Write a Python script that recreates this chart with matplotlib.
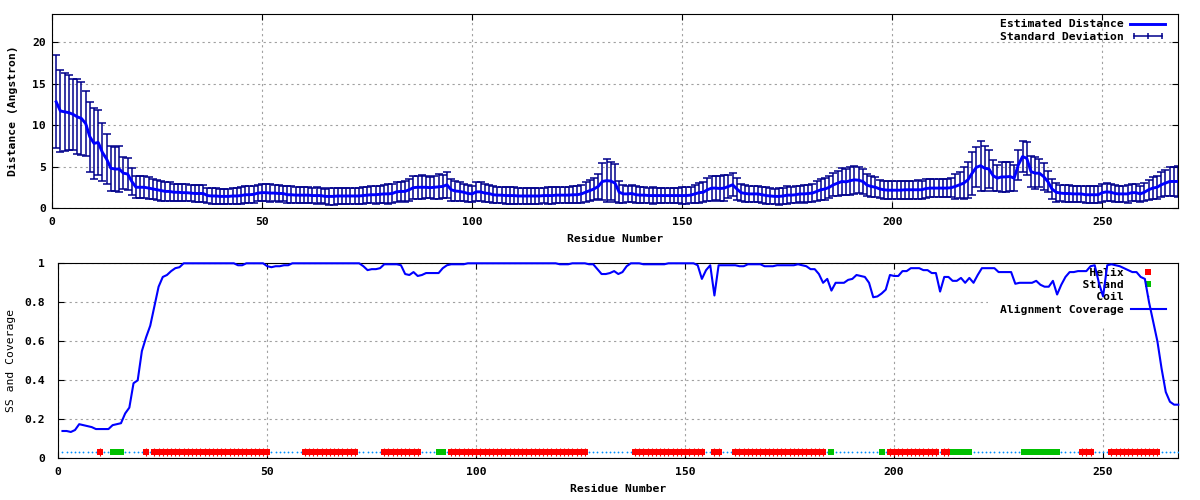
import numpy as np
import matplotlib
matplotlib.use('Agg')
import matplotlib.pyplot as plt
from matplotlib.lines import Line2D
from matplotlib.legend_handler import HandlerLine2D

# ---------------- data ----------------
residues = np.arange(1, 269)

est_distance = [
    12.8, 11.7, 11.6, 11.5, 11.3, 11.0, 10.8, 10.2, 8.6, 7.8,
    7.9, 6.7, 5.9, 4.8, 4.7, 4.7, 4.2, 4.1, 3.2, 2.5,
    2.5, 2.5, 2.4, 2.3, 2.2, 2.1, 2.0, 2.0, 1.9, 1.9,
    1.85, 1.85, 1.8, 1.75, 1.75, 1.75, 1.5, 1.45, 1.45, 1.4,
    1.4, 1.4, 1.45, 1.45, 1.5, 1.6, 1.6, 1.65, 1.8, 1.85,
    1.85, 1.8, 1.8, 1.75, 1.75, 1.6, 1.6, 1.55, 1.55, 1.55,
    1.55, 1.5, 1.5, 1.5, 1.4, 1.4, 1.4, 1.45, 1.45, 1.45,
    1.45, 1.45, 1.45, 1.5, 1.55, 1.6, 1.6, 1.65, 1.7, 1.7,
    1.75, 1.95, 2.0, 2.0, 2.2, 2.45, 2.5, 2.5, 2.5, 2.45,
    2.5, 2.55, 2.6, 2.8, 2.2, 2.05, 2.0, 1.9, 1.75, 1.7,
    1.95, 1.95, 1.8, 1.75, 1.6, 1.55, 1.55, 1.5, 1.5, 1.5,
    1.45, 1.45, 1.45, 1.45, 1.45, 1.45, 1.5, 1.5, 1.5, 1.55,
    1.55, 1.55, 1.55, 1.6, 1.6, 1.7, 1.9, 2.1, 2.3, 2.6,
    3.2, 3.3, 3.25, 3.0, 1.9, 1.7, 1.7, 1.75, 1.6, 1.55,
    1.55, 1.5, 1.5, 1.5, 1.5, 1.5, 1.5, 1.5, 1.5, 1.5,
    1.5, 1.55, 1.7, 1.85, 1.9, 2.2, 2.4, 2.4, 2.35, 2.4,
    2.6, 2.8, 2.3, 1.85, 1.75, 1.7, 1.7, 1.7, 1.6, 1.5,
    1.45, 1.4, 1.4, 1.45, 1.55, 1.55, 1.6, 1.7, 1.7, 1.75,
    1.8, 2.0, 2.2, 2.3, 2.5, 2.8, 3.0, 3.2, 3.15, 3.3,
    3.4, 3.35, 3.2, 2.75, 2.6, 2.5, 2.3, 2.2, 2.15, 2.15,
    2.15, 2.15, 2.2, 2.2, 2.2, 2.2, 2.2, 2.35, 2.4, 2.4,
    2.4, 2.4, 2.4, 2.45, 2.6, 2.8, 3.0, 3.4, 4.2, 4.9,
    5.1, 4.8, 4.7, 3.9, 3.6, 3.75, 3.75, 3.8, 3.6, 5.2,
    6.2, 6.0, 4.4, 4.2, 4.2, 3.8, 3.2, 2.3, 1.9, 1.8,
    1.75, 1.75, 1.7, 1.7, 1.7, 1.6, 1.6, 1.6, 1.6, 1.85,
    1.95, 1.9, 1.75, 1.7, 1.7, 1.7, 1.85, 1.85, 1.7, 1.9,
    2.2, 2.4, 2.5, 2.8, 3.0, 3.2, 3.2, 3.2,
]

std_dev = [
    5.6, 5.0, 4.7, 4.5, 4.3, 4.5, 4.4, 3.9, 4.2, 4.3,
    3.9, 3.5, 3.0, 2.7, 2.7, 2.8, 1.9, 1.9, 1.6, 1.3,
    1.3, 1.35, 1.3, 1.2, 1.2, 1.2, 1.1, 1.1, 1.05, 1.05,
    1.05, 1.05, 1.0, 1.0, 1.0, 1.0, 0.95, 0.95, 0.95, 0.9,
    0.9, 0.95, 0.95, 0.95, 1.0, 1.0, 1.0, 1.05, 1.0, 1.0,
    1.0, 1.05, 1.0, 1.0, 0.95, 1.0, 1.0, 0.95, 0.95, 1.0,
    1.0, 0.95, 1.0, 0.95, 0.95, 1.0, 1.0, 0.95, 1.0, 1.0,
    1.0, 1.0, 1.0, 1.0, 1.0, 1.05, 1.1, 1.05, 1.1, 1.2,
    1.2, 1.2, 1.15, 1.3, 1.3, 1.35, 1.4, 1.45, 1.35, 1.3,
    1.4, 1.5, 1.4, 1.6, 1.35, 1.2, 1.1, 1.05, 1.0, 1.0,
    1.15, 1.15, 1.1, 1.05, 1.0, 1.0, 1.0, 1.0, 1.0, 1.0,
    1.0, 0.95, 0.95, 1.0, 1.0, 1.0, 0.95, 1.0, 1.0, 1.0,
    1.0, 0.95, 1.0, 1.0, 1.05, 1.1, 1.2, 1.3, 1.3, 1.5,
    2.2, 2.6, 2.3, 2.3, 1.3, 1.1, 1.0, 1.05, 1.0, 1.0,
    1.0, 0.95, 1.0, 0.95, 0.95, 0.95, 0.95, 0.95, 0.95, 1.0,
    1.0, 1.0, 1.05, 1.2, 1.2, 1.4, 1.5, 1.4, 1.5, 1.6,
    1.4, 1.4, 1.3, 1.05, 1.0, 1.0, 1.0, 1.0, 0.95, 1.0,
    1.0, 0.95, 1.0, 1.0, 1.05, 1.0, 1.0, 1.0, 1.05, 1.05,
    1.1, 1.2, 1.25, 1.3, 1.35, 1.4, 1.5, 1.6, 1.6, 1.7,
    1.7, 1.6, 1.5, 1.3, 1.3, 1.2, 1.1, 1.1, 1.1, 1.1,
    1.1, 1.1, 1.1, 1.1, 1.1, 1.15, 1.1, 1.1, 1.1, 1.1,
    1.1, 1.1, 1.1, 1.15, 1.5, 1.6, 1.9, 2.2, 2.6, 2.4,
    3.0, 2.7, 2.3, 1.9, 1.6, 1.8, 1.8, 1.8, 1.6, 1.8,
    1.9, 2.0, 1.9, 1.9, 1.7, 1.6, 1.3, 1.2, 1.15, 1.0,
    1.0, 1.0, 1.0, 1.0, 1.0, 1.0, 1.0, 1.05, 1.0, 1.1,
    1.1, 1.0, 1.0, 1.0, 1.0, 1.05, 1.0, 1.0, 1.0, 1.1,
    1.2, 1.3, 1.4, 1.5, 1.6, 1.8, 1.8, 1.9,
]

coverage = [
    0.14, 0.14, 0.135, 0.145, 0.175, 0.17, 0.165, 0.16, 0.15, 0.15,
    0.15, 0.15, 0.17, 0.175, 0.18, 0.23, 0.26, 0.385, 0.40, 0.55,
    0.62, 0.68, 0.78, 0.88, 0.93, 0.94, 0.96, 0.975, 0.98, 1.0,
    1.0, 1.0, 1.0, 1.0, 1.0, 1.0, 1.0, 1.0, 1.0, 1.0,
    1.0, 1.0, 0.99, 0.99, 1.0, 1.0, 1.0, 1.0, 1.0, 0.985,
    0.98, 0.985, 0.985, 0.99, 0.99, 1.0, 1.0, 1.0, 1.0, 1.0,
    1.0, 1.0, 1.0, 1.0, 1.0, 1.0, 1.0, 1.0, 1.0, 1.0,
    1.0, 1.0, 0.985, 0.965, 0.97, 0.97, 0.975, 0.995, 0.995, 0.995,
    0.995, 0.99, 0.945, 0.94, 0.955, 0.935, 0.94, 0.95, 0.95, 0.95,
    0.95, 0.975, 0.99, 0.995, 0.995, 0.995, 0.995, 1.0, 1.0, 1.0,
    1.0, 1.0, 1.0, 1.0, 1.0, 1.0, 1.0, 1.0, 1.0, 1.0,
    1.0, 1.0, 1.0, 1.0, 1.0, 1.0, 1.0, 1.0, 1.0, 0.995,
    0.995, 0.995, 1.0, 1.0, 1.0, 1.0, 0.995, 0.995, 0.97, 0.945,
    0.945, 0.95, 0.96, 0.945, 0.955, 0.985, 1.0, 1.0, 1.0, 0.995,
    0.995, 0.995, 0.995, 0.995, 0.995, 1.0, 1.0, 1.0, 1.0, 1.0,
    1.0, 1.0, 0.99, 0.92, 0.965, 0.99, 0.835, 0.99, 0.99, 0.99,
    0.99, 0.99, 0.985, 0.985, 0.995, 0.995, 0.995, 0.995, 0.985, 0.985,
    0.985, 0.99, 0.99, 0.99, 0.99, 0.99, 0.995, 0.99, 0.985, 0.97,
    0.97, 0.945, 0.9, 0.92, 0.86, 0.9, 0.9, 0.9, 0.915, 0.92,
    0.94, 0.935, 0.93, 0.9, 0.826, 0.83, 0.845, 0.865, 0.94, 0.935,
    0.935, 0.96, 0.96, 0.975, 0.975, 0.975, 0.965, 0.965, 0.95, 0.95,
    0.855, 0.93, 0.93, 0.91, 0.91, 0.925, 0.9, 0.925, 0.9, 0.94,
    0.975, 0.975, 0.975, 0.975, 0.955, 0.955, 0.955, 0.955, 0.895, 0.9,
    0.9, 0.9, 0.9, 0.91, 0.89, 0.88, 0.88, 0.91, 0.84, 0.89,
    0.93, 0.955, 0.955, 0.96, 0.96, 0.96, 0.985, 0.99, 0.9, 0.83,
    0.99, 0.995, 0.99, 0.985, 0.975, 0.965, 0.955, 0.955, 0.93, 0.92,
    0.80, 0.70, 0.60, 0.46, 0.34, 0.29, 0.275, 0.275,
]

helix_segments = [(10, 10), (21, 21), (23, 50), (59, 71), (78, 86), (94, 126),
                  (138, 154), (157, 158), (162, 183), (199, 210), (212, 213),
                  (245, 247), (252, 263)]
strand_segments = [(13, 15), (91, 92), (185, 185), (197, 197), (214, 218), (231, 239)]
ss_level = 0.03

x_ticks = [0, 50, 100, 150, 200, 250]
y1_ticks = [0, 5, 10, 15, 20]
y2_ticks = [0, 0.2, 0.4, 0.6, 0.8, 1.0]
y2_ticklabels = ['0', '0.2', '0.4', '0.6', '0.8', '1']

# ---------------- derived SS arrays ----------------
helix_res = np.concatenate([np.arange(a, b + 1) for a, b in helix_segments])
strand_res = np.concatenate([np.arange(a, b + 1) for a, b in strand_segments])
coil_res = np.array([r for r in residues if r not in set(helix_res) | set(strand_res)])

# ---------------- style ----------------
plt.rcParams['font.family'] = ['DejaVu Sans Mono']
FS = 8.2
BLUE = '#0000ff'
EBLUE = '#00008b'
RED = '#ff0000'
GREEN = '#00c000'
COIL = '#0090ff'
GRID = '#a0a0a0'

W, H = 1200, 500
fig = plt.figure(figsize=(12, 5), dpi=100)
ax1 = fig.add_axes([52 / W, 1 - 208 / H, 1126 / W, 194 / H])
ax2 = fig.add_axes([58.3 / W, 1 - 458.3 / H, 1120 / W, 195 / H])


def style_axes(ax, ypad):
    ax.set_axisbelow(True)
    ax.grid(True, color=GRID, linestyle=(0, (2, 3)), linewidth=0.8)
    ax.tick_params(direction='in', length=4, width=0.8, top=True, right=True,
                   labelsize=FS)
    ax.tick_params(axis='x', pad=6.5)
    ax.tick_params(axis='y', pad=ypad)
    for lab in ax.get_xticklabels() + ax.get_yticklabels():
        lab.set_fontweight('bold')
    for s in ax.spines.values():
        s.set_linewidth(0.8)
        s.set_color('black')


# ---------------- top panel ----------------
ax1.errorbar(residues, est_distance, yerr=std_dev, fmt='none', ecolor=EBLUE,
             elinewidth=1.1, capsize=2.6, capthick=1.1, zorder=2)
ax1.plot(residues, est_distance, color=BLUE, lw=2.1, zorder=3)
ax1.set_xlim(0, 268)
ax1.set_ylim(0, 23.4)
ax1.set_xticks(x_ticks)
ax1.set_yticks(y1_ticks)
style_axes(ax1, 4.5)
ax1.set_xlabel('Residue Number', fontsize=FS, fontweight='bold', labelpad=5)
ax1.set_ylabel('Distance (Angstron)', fontsize=FS, fontweight='bold', labelpad=10)

h_est = Line2D([], [], color=BLUE, lw=2.1)
h_sd = Line2D([], [], color=EBLUE, lw=1.1, marker='|', ms=5, mew=1.1)
leg1 = ax1.legend([h_est, h_sd], ['Estimated Distance', 'Standard Deviation'],
                  handler_map={h_sd: HandlerLine2D(numpoints=3)},
                  loc='upper right', bbox_to_anchor=((1165 - 52) / 1126, 1 - 5.5 / 194),
                  frameon=False, borderpad=0, borderaxespad=0,
                  handlelength=3.05, handletextpad=0.6, labelspacing=0.18,
                  markerfirst=False, prop={'size': FS, 'weight': 'bold'})

# ---------------- bottom panel ----------------
ax2.plot(coil_res, np.full(len(coil_res), ss_level), ls='none', marker='o', ms=1.3,
         mew=0, color=COIL, zorder=3)
ax2.plot(helix_res, np.full(len(helix_res), ss_level), ls='none', marker='s', ms=4.1,
         mew=0, color=RED, zorder=3)
ax2.plot(helix_res, np.full(len(helix_res), ss_level), ls='none', marker='|', ms=5.6,
         mew=0.8, color=RED, zorder=3)
ax2.plot(strand_res, np.full(len(strand_res), ss_level), ls='none', marker='s', ms=4.8,
         mew=0, color=GREEN, zorder=3)
ax2.plot(residues, coverage, color=BLUE, lw=1.5, zorder=4, clip_on=False)
ax2.set_xlim(0, 268)
ax2.set_ylim(0, 1)
ax2.set_xticks(x_ticks)
ax2.set_yticks(y2_ticks)
ax2.set_yticklabels(y2_ticklabels)
style_axes(ax2, 9.5)
ax2.set_xlabel('Residue Number', fontsize=FS, fontweight='bold', labelpad=5)
ax2.set_ylabel('SS and Coverage', fontsize=FS, labelpad=6)

hl = Line2D([], [], color=RED, marker='s', ms=4.1, mew=0, ls='none')
hs = Line2D([], [], color=GREEN, marker='s', ms=4.8, mew=0, ls='none')
hc = Line2D([], [], color=COIL, marker='o', ms=1.3, mew=0, ls='none')
hcov = Line2D([], [], color=BLUE, lw=1.5)
labels2 = [s.rjust(18) for s in ['Helix', 'Strand', 'Coil', 'Alignment Coverage']]
leg2 = ax2.legend([hl, hs, hc, hcov], labels2, loc='upper right',
                  bbox_to_anchor=(1.0, 1 + 7.5 / 195),
                  frameon=True, fancybox=False, facecolor='white', edgecolor='none',
                  framealpha=1.0, borderpad=1.1, borderaxespad=0,
                  handlelength=3.05, handletextpad=0.6, labelspacing=0.18,
                  markerfirst=False, prop={'size': FS, 'weight': 'bold'})
leg2.set_zorder(1.5)

fig.savefig('out.png', dpi=100)
